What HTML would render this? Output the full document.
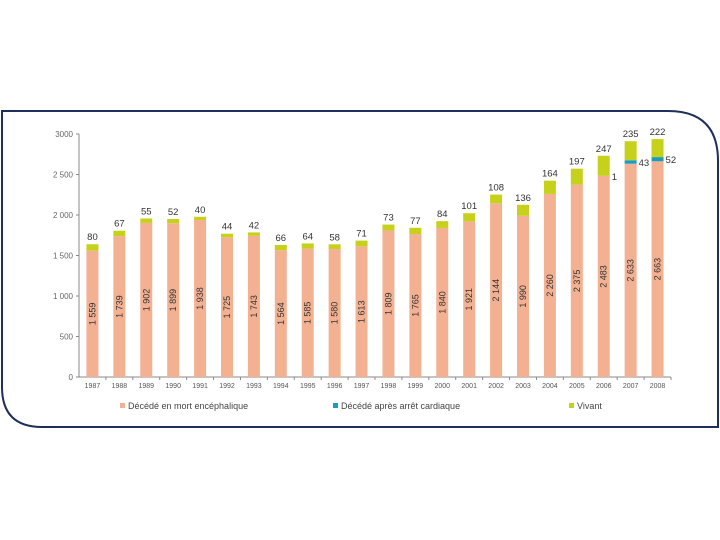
<!DOCTYPE html>
<html><head><meta charset="utf-8"><style>
html,body{margin:0;padding:0;background:#fff;}
svg{display:block;font-family:"Liberation Sans",sans-serif;}
</style></head><body>
<svg id="c" width="720" height="540" viewBox="0 0 720 540">
<path d="M2 111 H668 Q718 111 718 161 V427 H42 Q2 427 2 387 Z" fill="none" stroke="#1f2f5a" stroke-width="2"/>
<g id="g"></g>
</svg>
<script>
const years=['1987','1988','1989','1990','1991','1992','1993','1994','1995','1996','1997','1998','1999','2000','2001','2002','2003','2004','2005','2006','2007','2008'];
const brainDeath=[1559,1739,1902,1899,1938,1725,1743,1564,1585,1580,1613,1809,1765,1840,1921,2144,1990,2260,2375,2483,2633,2663];
const cardiac=[0,0,0,0,0,0,0,0,0,0,0,0,0,0,0,0,0,0,0,1,43,52];
const living=[80,67,55,52,40,44,42,66,64,58,71,73,77,84,101,108,136,164,197,247,235,222];
const yTicks=[0,500,1000,1500,2000,2500,3000];
const yTickLabels=['0','500','1 000','1 500','2 000','2 500','3000'];

const NS='http://www.w3.org/2000/svg',g=document.getElementById('g');
const y0=377,yTop=134,yMax=3000,x0=79,x1=671;
const y=v=>y0-(v/yMax)*(y0-yTop);
const step=(x1-x0)/years.length;
const xc=i=>x0+step*(i+0.5);
const bw=12;
function el(t,a,txt){const e=document.createElementNS(NS,t);for(const k in a)e.setAttribute(k,a[k]);if(txt!=null)e.textContent=txt;g.appendChild(e);return e;}
let e;
e=el('line',{x1:x0,y1:yTop,x2:x0,y2:y0,stroke:'#888','stroke-width':1});


e=el('line',{x1:x0,y1:y0,x2:x1,y2:y0,stroke:'#888','stroke-width':1});


yTicks.forEach((v,i)=>{
  el('line',{x1:x0-3,y1:y(v),x2:x0,y2:y(v),stroke:'#888'});
  e=el('text',{x:x0-6,y:y(v)+3,'text-anchor':'end','font-size':8,fill:'#666'},yTickLabels[i]);
  
  
});
years.forEach((yr,i)=>{
  const cx=xc(i);
  el('line',{x1:x0+step*(i+1),y1:y0,x2:x0+step*(i+1),y2:y0+3,stroke:'#888'});
  e=el('text',{x:cx,y:y0+11,'text-anchor':'middle','font-size':7,fill:'#555'},yr);
  
  
  const b=brainDeath[i],c=cardiac[i],l=living[i];
  e=el('rect',{x:cx-bw/2,y:y(b),width:bw,height:y0-y(b),fill:'#f4b192'});
  
  
  if(c>0){e=el('rect',{x:cx-bw/2,y:y(b+c),width:bw,height:y(b)-y(b+c),fill:'#1b9cbf'});
  
  }
  e=el('rect',{x:cx-bw/2,y:y(b+c+l),width:bw,height:y(b+c)-y(b+c+l),fill:'#c6d11c'});
  
  
  const my=(y0+y(b))/2;
  const s=String(b).replace(/(\d)(\d{3})$/,'$1 $2');
  e=el('text',{x:cx+3,y:my,'text-anchor':'middle','font-size':9,fill:'#333',transform:`rotate(-90 ${cx+3} ${my})`},s);
  
  
  e=el('text',{x:cx,y:y(b+c+l)-4,'text-anchor':'middle','font-size':9.5,fill:'#333'},String(l));
  
  
  if(c>0){e=el('text',{x:cx+bw/2+2,y:y(b+c/2)+4,'font-size':9.5,fill:'#333'},String(c));
  
  }
});
const leg=[['#f4b192','Décédé en mort encéphalique',120],['#1b9cbf','Décédé après arrêt cardiaque',333],['#c6d11c','Vivant',569]];
leg.forEach(([col,t,x])=>{
  e=el('rect',{x:x,y:403,width:5,height:5,fill:col});
  
  
  e=el('text',{x:x+8,y:409,'font-size':9,fill:'#444'},t);
  
  
});
</script>
</body></html>
